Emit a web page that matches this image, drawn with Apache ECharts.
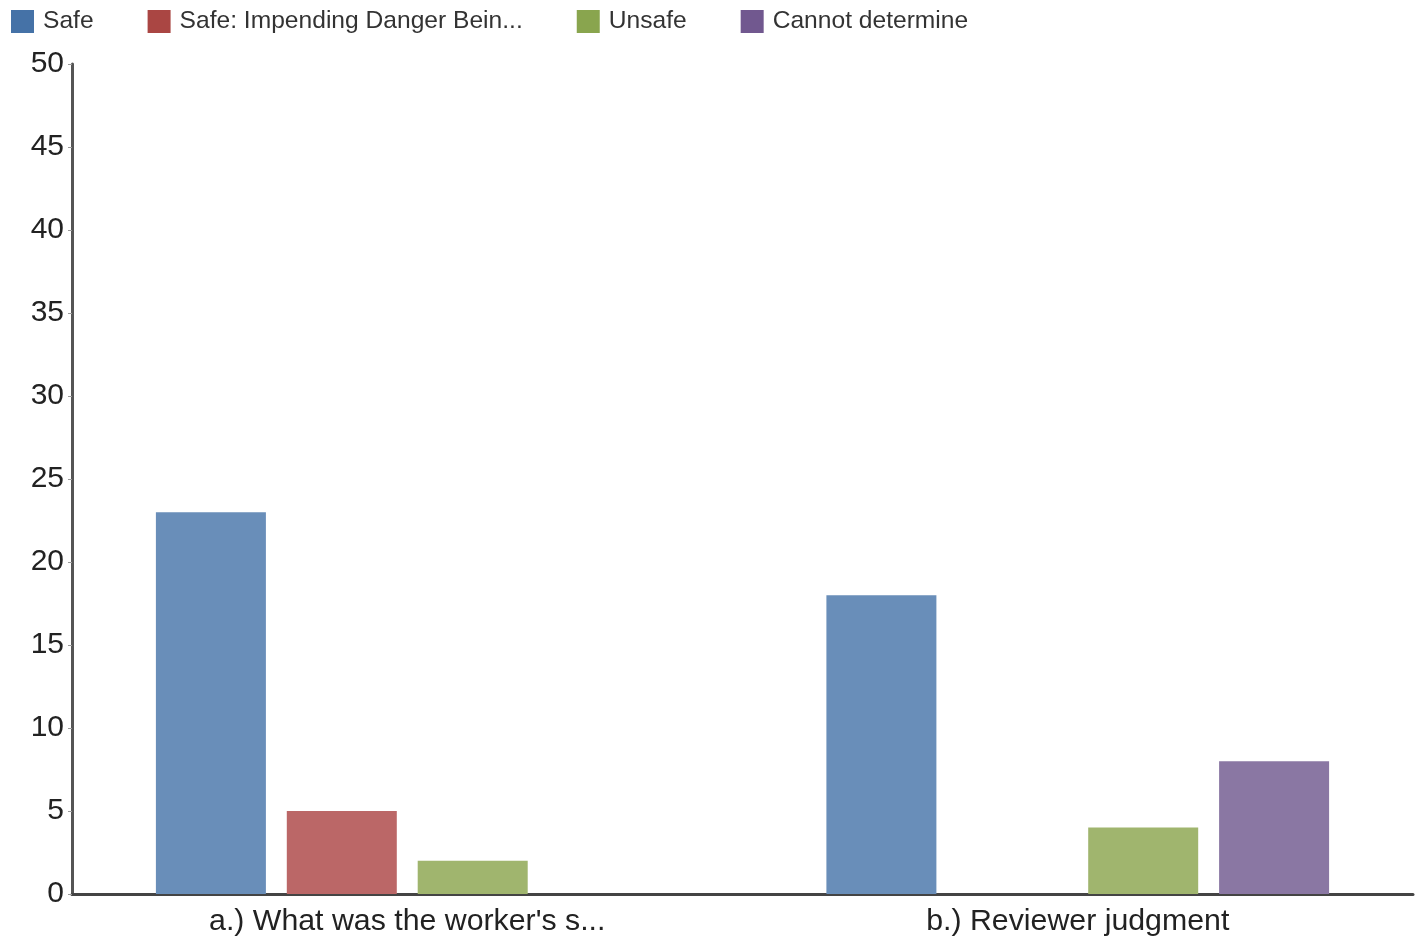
<!DOCTYPE html>
<html>
<head>
<meta charset="utf-8">
<script src="https://cdn.jsdelivr.net/npm/echarts@6/dist/echarts.min.js"></script>
<style>html,body{margin:0;padding:0;background:#fff;}#c{width:1425px;height:940px;}</style>
</head>
<body>
<div id="c"></div>
<script>
const categories = ["a.) What was the worker's s...", "b.) Reviewer judgment"];
const seriesNames = ["Safe", "Safe: Impending Danger Bein...", "Unsafe", "Cannot determine"];
const safe = [23, 18];
const impending = [5, 0];
const unsafe = [2, 4];
const cannot = [0, 8];
const yTicks = [0, 5, 10, 15, 20, 25, 30, 35, 40, 45, 50];

const barColors = ['#698EB9', '#BB6767', '#A0B56E', '#8A77A3'];
const legendColors = ['#4572A7', '#AA4643', '#89A54E', '#71588F'];
const values = [safe, impending, unsafe, cannot];

const chart = echarts.init(document.getElementById('c'));
chart.setOption({
  animation: false,
  textStyle: { fontFamily: 'Liberation Sans, Arial, sans-serif' },
  legend: {
    left: 6, top: 4, itemWidth: 23, itemHeight: 23, itemGap: 54,
    icon: 'rect',
    textStyle: { fontSize: 24.6, color: '#333', padding: [0, 0, 0, 4], fontFamily: 'Liberation Sans, Arial, sans-serif' },
    data: seriesNames.map((n, i) => ({ name: n, itemStyle: { color: legendColors[i] } }))
  },
  grid: { left: 72, right: 12, top: 64, bottom: 46, containLabel: false },
  xAxis: {
    type: 'category', data: categories,
    axisLine: { lineStyle: { color: '#444', width: 3 } },
    axisTick: { show: false },
    axisLabel: { fontSize: 30.3, color: '#222', margin: 13 }
  },
  yAxis: {
    type: 'value', min: 0, max: 50, interval: 5,
    axisLine: { show: true, lineStyle: { color: '#555', width: 3 } },
    axisTick: { show: true, length: 4, lineStyle: { color: '#999', width: 1 } },
    splitLine: { show: false },
    axisLabel: { fontSize: 30, color: '#222', margin: 8,
      formatter: v => String(yTicks.includes(v) ? v : '') }
  },
  series: seriesNames.map((n, i) => ({
    name: n, type: 'bar', data: values[i],
    barWidth: 110, barGap: '19%',
    itemStyle: { color: barColors[i] }
  }))
});
</script>
</body>
</html>
